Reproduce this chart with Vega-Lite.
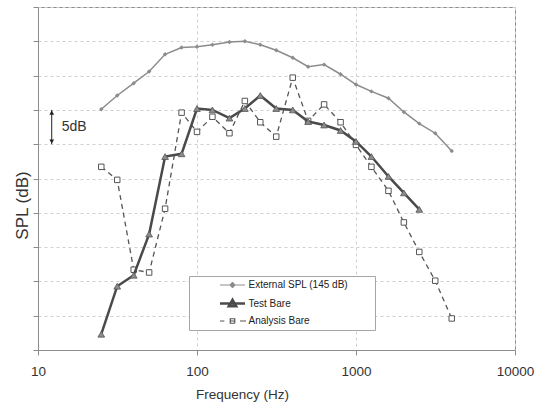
{
  "$schema": "https://vega.github.io/schema/vega-lite/v6.json",
  "width": 477,
  "height": 343,
  "autosize": {"type": "none"},
  "padding": {"left": 38, "top": 7, "right": 25, "bottom": 53},
  "background": "white",
  "config": {
    "view": {"stroke": "#8c8c8c", "strokeWidth": 1},
    "font": "Liberation Sans",
    "axis": {
      "gridColor": "#d0d0d0",
      "gridDash": [3, 3],
      "domainColor": "#8c8c8c",
      "tickColor": "#8c8c8c",
      "labelColor": "#333333",
      "titleColor": "#333333",
      "labelFont": "Liberation Sans",
      "titleFont": "Liberation Sans",
      "titleFontWeight": "normal"
    }
  },
  "datasets": {
    "spl": [
      {"series": "External SPL (145 dB)", "freq": 25, "spl": 35.1},
      {"series": "External SPL (145 dB)", "freq": 31.5, "spl": 37.1},
      {"series": "External SPL (145 dB)", "freq": 40, "spl": 38.9},
      {"series": "External SPL (145 dB)", "freq": 50, "spl": 40.6},
      {"series": "External SPL (145 dB)", "freq": 63, "spl": 43.1},
      {"series": "External SPL (145 dB)", "freq": 80, "spl": 44.1},
      {"series": "External SPL (145 dB)", "freq": 100, "spl": 44.2},
      {"series": "External SPL (145 dB)", "freq": 125, "spl": 44.5},
      {"series": "External SPL (145 dB)", "freq": 160, "spl": 44.9},
      {"series": "External SPL (145 dB)", "freq": 200, "spl": 45.0},
      {"series": "External SPL (145 dB)", "freq": 250, "spl": 44.5},
      {"series": "External SPL (145 dB)", "freq": 315, "spl": 43.7},
      {"series": "External SPL (145 dB)", "freq": 400, "spl": 42.6},
      {"series": "External SPL (145 dB)", "freq": 500, "spl": 41.3},
      {"series": "External SPL (145 dB)", "freq": 630, "spl": 41.6},
      {"series": "External SPL (145 dB)", "freq": 800, "spl": 40.2},
      {"series": "External SPL (145 dB)", "freq": 1000, "spl": 38.7},
      {"series": "External SPL (145 dB)", "freq": 1250, "spl": 37.7},
      {"series": "External SPL (145 dB)", "freq": 1600, "spl": 36.7},
      {"series": "External SPL (145 dB)", "freq": 2000, "spl": 34.7},
      {"series": "External SPL (145 dB)", "freq": 2500, "spl": 33.0},
      {"series": "External SPL (145 dB)", "freq": 3150, "spl": 31.6},
      {"series": "External SPL (145 dB)", "freq": 4000, "spl": 29.0},
      {"series": "Test Bare", "freq": 25, "spl": 2.3},
      {"series": "Test Bare", "freq": 31.5, "spl": 9.3},
      {"series": "Test Bare", "freq": 40, "spl": 10.9},
      {"series": "Test Bare", "freq": 50, "spl": 16.9},
      {"series": "Test Bare", "freq": 63, "spl": 28.2},
      {"series": "Test Bare", "freq": 80, "spl": 28.6},
      {"series": "Test Bare", "freq": 100, "spl": 35.2},
      {"series": "Test Bare", "freq": 125, "spl": 35.0},
      {"series": "Test Bare", "freq": 160, "spl": 33.8},
      {"series": "Test Bare", "freq": 200, "spl": 35.2},
      {"series": "Test Bare", "freq": 250, "spl": 37.1},
      {"series": "Test Bare", "freq": 315, "spl": 35.2},
      {"series": "Test Bare", "freq": 400, "spl": 35.0},
      {"series": "Test Bare", "freq": 500, "spl": 33.3},
      {"series": "Test Bare", "freq": 630, "spl": 32.8},
      {"series": "Test Bare", "freq": 800, "spl": 32.0},
      {"series": "Test Bare", "freq": 1000, "spl": 30.4},
      {"series": "Test Bare", "freq": 1250, "spl": 28.2},
      {"series": "Test Bare", "freq": 1600, "spl": 25.3},
      {"series": "Test Bare", "freq": 2000, "spl": 22.9},
      {"series": "Test Bare", "freq": 2500, "spl": 20.5},
      {"series": "Analysis Bare", "freq": 25, "spl": 26.7},
      {"series": "Analysis Bare", "freq": 31.5, "spl": 24.8},
      {"series": "Analysis Bare", "freq": 40, "spl": 11.7},
      {"series": "Analysis Bare", "freq": 50, "spl": 11.3},
      {"series": "Analysis Bare", "freq": 63, "spl": 20.6},
      {"series": "Analysis Bare", "freq": 80, "spl": 34.6},
      {"series": "Analysis Bare", "freq": 100, "spl": 31.8},
      {"series": "Analysis Bare", "freq": 125, "spl": 34.0},
      {"series": "Analysis Bare", "freq": 160, "spl": 31.6},
      {"series": "Analysis Bare", "freq": 200, "spl": 36.3},
      {"series": "Analysis Bare", "freq": 250, "spl": 33.2},
      {"series": "Analysis Bare", "freq": 315, "spl": 31.1},
      {"series": "Analysis Bare", "freq": 400, "spl": 39.7},
      {"series": "Analysis Bare", "freq": 500, "spl": 33.4},
      {"series": "Analysis Bare", "freq": 630, "spl": 35.8},
      {"series": "Analysis Bare", "freq": 800, "spl": 33.2},
      {"series": "Analysis Bare", "freq": 1000, "spl": 29.9},
      {"series": "Analysis Bare", "freq": 1250, "spl": 26.7},
      {"series": "Analysis Bare", "freq": 1600, "spl": 23.2},
      {"series": "Analysis Bare", "freq": 2000, "spl": 18.6},
      {"series": "Analysis Bare", "freq": 2500, "spl": 14.3},
      {"series": "Analysis Bare", "freq": 3150, "spl": 10.1},
      {"series": "Analysis Bare", "freq": 4000, "spl": 4.6}
    ],
    "bar": [{"freq": 12.2, "lo": 30, "hi": 35}],
    "heads": [{"freq": 12.2, "spl": 34.6, "dir": "up"}, {"freq": 12.2, "spl": 30.4, "dir": "down"}],
    "note": [{"freq": 14.1, "spl": 32.5, "label": "5dB"}]
  },
  "layer": [
    {
      "data": {"name": "spl"},
      "transform": [{"filter": "datum.series === 'External SPL (145 dB)'"}],
      "mark": {"type": "line", "strokeWidth": 1.5},
      "encoding": {
        "x": {
          "field": "freq", "type": "quantitative",
          "scale": {"type": "log", "domain": [10, 10000]},
          "title": "Frequency (Hz)",
          "axis": {
            "values": [10, 100, 1000, 10000], "tickCount": 10, "format": "d", "grid": true,
            "tickSize": 5, "labelPadding": 9, "labelFontSize": 13.5, "labelFlush": false,
            "labelOverlap": false, "titleFontSize": 13.5, "titlePadding": 10, "titleX": 204
          }
        },
        "y": {
          "field": "spl", "type": "quantitative",
          "scale": {"domain": [0, 50], "nice": false},
          "title": "SPL (dB)",
          "axis": {
            "values": [0, 5, 10, 15, 20, 25, 30, 35, 40, 45, 50], "tickCount": 20, "labels": false, "grid": true,
            "tickSize": 5, "titleFontSize": 17, "titleX": -6.5, "titleY": 198, "titleAngle": -90
          }
        },
        "color": {
          "field": "series", "type": "nominal",
          "scale": {
            "domain": ["External SPL (145 dB)", "Test Bare", "Analysis Bare"],
            "range": ["#8c8c8c", "#4a4a4a", "#555555"]
          },
          "legend": {
            "title": null, "orient": "none", "legendX": 151, "legendY": 269,
            "padding": 4, "strokeColor": "#a6a6a6", "fillColor": "white",
            "symbolSize": 225, "symbolStrokeWidth": 1.5, "symbolOffset": 34.5, "labelOffset": 11,
            "labelFont": "Liberation Sans", "labelFontSize": 10,
            "labelColor": "#222222", "rowPadding": 4.5, "labelLimit": 400,
            "labelExpr": "datum.label + '\u00a0\u00a0\u00a0\u00a0\u00a0\u00a0\u00a0\u00a0\u200b'",
            "encode": {
              "symbols": {
                "update": {
                  "shape": {"signal": "datum.value === 'Test Bare' ? 'M-1.667,0H1.667M-0.5,0.38L0,-0.5L0.5,0.38Z' : datum.value === 'Analysis Bare' ? 'M-1.667,0H-1.09M-0.3,-0.3H0.3V0.3H-0.3ZM-0.3,0H0.3M1.0,0H1.8' : 'M-1.667,0H1.667M0,-0.33L0.33,0L0,0.33L-0.33,0Z'"},
                  "fill": {"signal": "datum.value === 'Analysis Bare' ? 'transparent' : '#8c8c8c'"},
                  "stroke": {"signal": "datum.value === 'Test Bare' ? '#4a4a4a' : datum.value === 'Analysis Bare' ? '#555555' : '#8c8c8c'"},
                  "strokeWidth": {"signal": "datum.value === 'Test Bare' ? 2.5 : 1.2"},
                  "strokeDash": {"value": [1, 0]}
                }
              }
            }
          }
        }
      }
    },
    {
      "data": {"name": "spl"},
      "transform": [{"filter": "datum.series === 'External SPL (145 dB)'"}],
      "mark": {"type": "point", "shape": "diamond", "filled": true, "size": 20, "color": "#8c8c8c", "opacity": 1},
      "encoding": {
        "x": {"field": "freq", "type": "quantitative"},
        "y": {"field": "spl", "type": "quantitative"}
      }
    },
    {
      "data": {"name": "spl"},
      "transform": [{"filter": "datum.series === 'Analysis Bare'"}],
      "mark": {"type": "line", "strokeWidth": 1.3, "strokeDash": [5, 4]},
      "encoding": {
        "x": {"field": "freq", "type": "quantitative"},
        "y": {"field": "spl", "type": "quantitative"},
        "color": {"field": "series", "type": "nominal"}
      }
    },
    {
      "data": {"name": "spl"},
      "transform": [{"filter": "datum.series === 'Analysis Bare'"}],
      "mark": {"type": "point", "shape": "square", "filled": false, "size": 30, "fill": "white", "stroke": "#555555", "strokeWidth": 1, "opacity": 1},
      "encoding": {
        "x": {"field": "freq", "type": "quantitative"},
        "y": {"field": "spl", "type": "quantitative"}
      }
    },
    {
      "data": {"name": "spl"},
      "transform": [{"filter": "datum.series === 'Test Bare'"}],
      "mark": {"type": "line", "strokeWidth": 2.5},
      "encoding": {
        "x": {"field": "freq", "type": "quantitative"},
        "y": {"field": "spl", "type": "quantitative"},
        "color": {"field": "series", "type": "nominal"}
      }
    },
    {
      "data": {"name": "spl"},
      "transform": [{"filter": "datum.series === 'Test Bare'"}],
      "mark": {"type": "point", "shape": "triangle-up", "filled": true, "size": 45, "fill": "#8c8c8c", "stroke": "#555555", "strokeWidth": 0.8, "opacity": 1},
      "encoding": {
        "x": {"field": "freq", "type": "quantitative"},
        "y": {"field": "spl", "type": "quantitative"}
      }
    },
    {
      "data": {"name": "bar"},
      "mark": {"type": "rule", "color": "#222222", "strokeWidth": 1},
      "encoding": {
        "x": {"field": "freq", "type": "quantitative"},
        "y": {"field": "lo", "type": "quantitative"},
        "y2": {"field": "hi"}
      }
    },
    {
      "data": {"name": "heads"},
      "mark": {"type": "point", "filled": true, "size": 22, "color": "#222222", "opacity": 1},
      "encoding": {
        "x": {"field": "freq", "type": "quantitative"},
        "y": {"field": "spl", "type": "quantitative"},
        "shape": {
          "field": "dir", "type": "nominal",
          "scale": {"domain": ["up", "down"], "range": ["triangle-up", "triangle-down"]},
          "legend": null
        }
      }
    },
    {
      "data": {"name": "note"},
      "mark": {"type": "text", "align": "left", "baseline": "middle", "fontSize": 14, "color": "#333333", "font": "Liberation Sans"},
      "encoding": {
        "x": {"field": "freq", "type": "quantitative"},
        "y": {"field": "spl", "type": "quantitative"},
        "text": {"field": "label"}
      }
    }
  ]
}
